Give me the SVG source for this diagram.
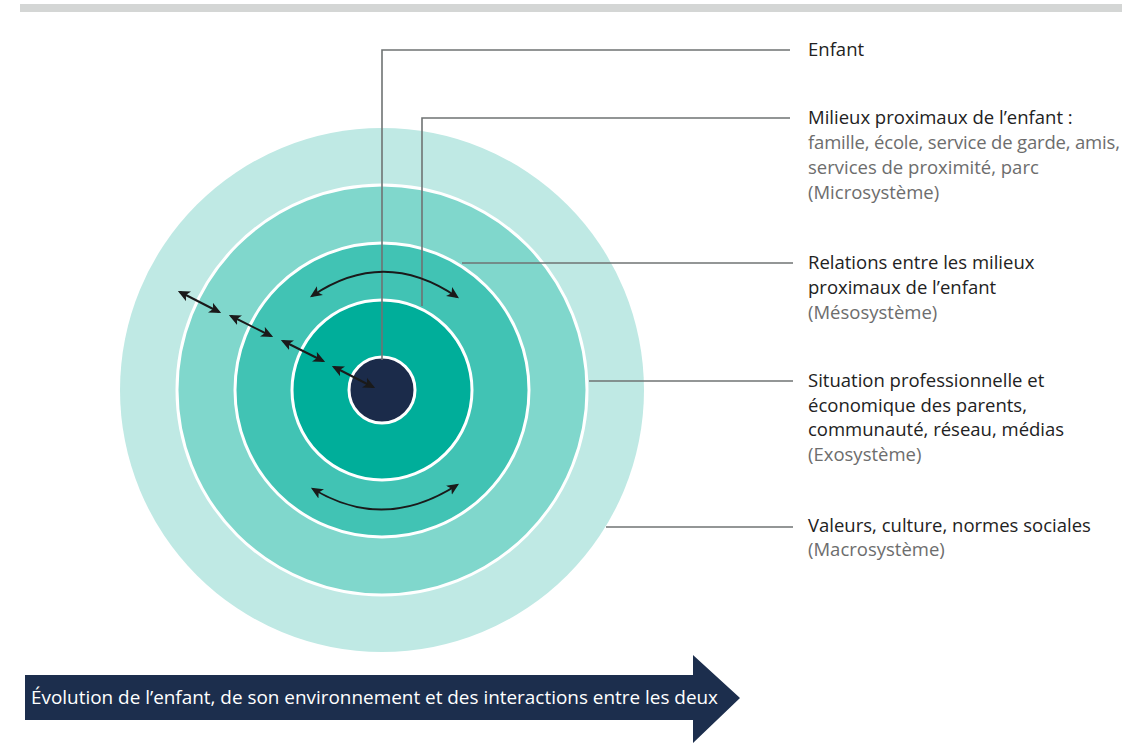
<svg xmlns="http://www.w3.org/2000/svg" width="1134" height="744" viewBox="0 0 1134 744">
<defs>
<marker id="ah" viewBox="0 0 10 10" refX="8" refY="5" markerWidth="12" markerHeight="12" orient="auto-start-reverse" markerUnits="userSpaceOnUse">
<path d="M0,0.5 L10,5 L0,9.5 L2.5,5 Z" fill="#1a1a1a"/>
</marker>
<style>
.ring{stroke:#fff;stroke-width:3}
.lead{fill:none;stroke:#6f7373;stroke-width:1.6}
.dbl{fill:none;stroke:#1a1a1a;stroke-width:2;marker-start:url(#ah);marker-end:url(#ah)}
text{font-family:"Open Sans","Noto Sans","Liberation Sans",sans-serif;font-size:18.5px}
.h{fill:#222}
.s{fill:#6d6d6d}
</style>
</defs>
<rect x="20" y="4" width="1102" height="8" fill="#d4d6d5"/>
<g id="rings">
<circle cx="382" cy="390" r="262" fill="#bfe9e4"/>
<circle class="ring" cx="382" cy="390" r="205" fill="#80d7cc"/>
<circle class="ring" cx="382" cy="390" r="147" fill="#41c3b4"/>
<circle class="ring" cx="382" cy="390" r="90" fill="#00ae9a"/>
<circle class="ring" cx="382" cy="390" r="33" fill="#1b2b4a"/>
</g>
<g id="connectors">
<polyline class="lead" points="382,360 382,50 790,50"/>
<polyline class="lead" points="422,306 422,118 790,118"/>
<line class="lead" x1="462" y1="263" x2="793" y2="263"/>
<line class="lead" x1="589" y1="381" x2="793" y2="381"/>
<line class="lead" x1="606" y1="527" x2="793" y2="527"/>
<path class="dbl" d="M312,296 Q384,247 457,297"/>
<path class="dbl" d="M313,489 Q384,532 457,485"/>
<line class="dbl" x1="180" y1="292" x2="219" y2="312"/>
<line class="dbl" x1="231" y1="316" x2="271" y2="336"/>
<line class="dbl" x1="283" y1="341" x2="323" y2="361"/>
<line class="dbl" x1="334" y1="367" x2="373" y2="387"/>
</g>
<g id="label-enfant">
<text class="h" x="808" y="56">Enfant</text>
</g>
<g id="label-micro">
<text class="h" x="808" y="124">Milieux proximaux de l’enfant :</text>
<text class="s" x="808" y="149" textLength="312">famille, école, service de garde, amis,</text>
<text class="s" x="808" y="174">services de proximité, parc</text>
<text class="s" x="808" y="199">(Microsystème)</text>
</g>
<g id="label-meso">
<text class="h" x="808" y="269">Relations entre les milieux</text>
<text class="h" x="808" y="294">proximaux de l’enfant</text>
<text class="s" x="808" y="319">(Mésosystème)</text>
</g>
<g id="label-exo">
<text class="h" x="808" y="387">Situation professionnelle et</text>
<text class="h" x="808" y="412">économique des parents,</text>
<text class="h" x="808" y="436">communauté, réseau, médias</text>
<text class="s" x="808" y="461">(Exosystème)</text>
</g>
<g id="label-macro">
<text class="h" x="808" y="532">Valeurs, culture, normes sociales</text>
<text class="s" x="808" y="556">(Macrosystème)</text>
</g>
<g id="evolution">
<path d="M25,675 L693,675 L693,655 L740,698 L693,743 L693,720 L25,720 Z" fill="#1c2e4d"/>
<text x="31" y="704" fill="#ffffff" textLength="687" lengthAdjust="spacingAndGlyphs">Évolution de l’enfant, de son environnement et des interactions entre les deux</text>
</g>
</svg>
